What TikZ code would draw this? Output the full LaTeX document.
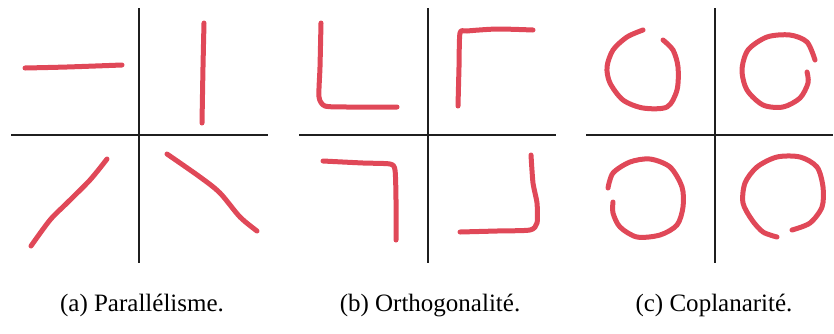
\documentclass[tikz,border=0pt]{standalone}
\usepackage{fontspec}
\setmainfont{Liberation Serif}
\usepackage{xcolor}
\usepackage{tikz}
\usetikzlibrary{positioning,calc}
\definecolor{strokered}{RGB}{224,72,88}

\begin{document}
\begin{tikzpicture}[
    x=1pt, y=-1pt,
    axis/.style = {draw=black!88, line width=2.6pt},
    stroke/.style = {draw=strokered, line width=5pt, line cap=round, line join=round},
    caption/.style = {anchor=base, inner sep=0pt, font=\fontsize{25}{30}\selectfont}
]
    \useasboundingbox (0,0) rectangle (834,333);

    % (a) parallelisme
    \draw[axis] (139,8) -- (139,263);
    \draw[axis] (11,135) -- (268,135);
    \draw[stroke] plot[smooth] coordinates {(25,68) (67,67) (122,65)};
    \draw[stroke] plot[smooth] coordinates {(204,23) (203,67) (202,123)};
    \draw[stroke] plot[smooth] coordinates {(107,159) (90,180) (67,203) (50,220) (31,246)};
    \draw[stroke] plot[smooth] coordinates {(167,154) (200,177) (220,193) (240,217) (257,231)};

    % (b) orthogonalite
    \draw[axis] (428,8) -- (428,263);
    \draw[axis] (299,135) -- (556,135);
    \draw[stroke] plot[smooth, tension=0.4] coordinates {(321,23) (320,67) (319,97) (325,106) (347,107) (397,107)};
    \draw[stroke] plot[smooth, tension=0.4] coordinates {(458,106) (459,67) (460,33) (467,31) (497,29) (533,30)};
    \draw[stroke] plot[smooth, tension=0.4] coordinates {(323,161) (363,163) (390,164) (395,170) (396,200) (396,240)};
    \draw[stroke] plot[smooth, tension=0.4] coordinates {(531,155) (533,183) (537,203) (537,223) (530,230) (497,231) (460,232)};

    % (c) coplanarite
    \draw[axis] (715,8) -- (715,263);
    \draw[axis] (586,135) -- (833,135);
    \draw[stroke] plot[smooth] coordinates {(643,30) (627,37) (613,50) (607,67) (610,83) (623,100) (643,108) (667,107) (677,90) (678,67) (673,50) (663,40)};
    \draw[stroke] plot[smooth] coordinates {(815,60) (807,42) (790,35) (767,37) (748,50) (742,70) (747,90) (763,105) (783,107) (800,98) (808,83) (807,72)};
    \draw[stroke] plot[smooth] coordinates {(608,188) (613,173) (630,162) (650,159) (670,167) (682,187) (683,207) (677,225) (660,235) (637,237) (620,227) (613,213) (613,202)};
    \draw[stroke] plot[smooth] coordinates {(792,230) (810,223) (822,207) (823,187) (817,167) (800,157) (777,157) (757,167) (745,183) (743,203) (752,220) (763,232) (777,237)};

    \node[caption] (capa) at (142,311) {(a) Parallélisme.};
    \node[caption] (capb) at (430,311) {(b) Orthogonalité.};
    \node[caption] (capc) at (714,311) {(c) Coplanarité.};
\end{tikzpicture}
\end{document}
